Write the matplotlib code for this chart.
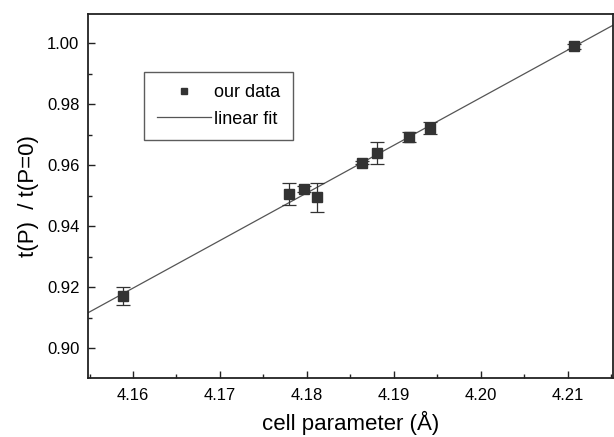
import numpy as np
import matplotlib
matplotlib.use('Agg')
import matplotlib.pyplot as plt
from matplotlib.ticker import MultipleLocator, FormatStrFormatter

plt.rcParams['font.family'] = ['Liberation Sans', 'DejaVu Sans']

# datos
cell = [4.1589, 4.1780, 4.1797, 4.1812, 4.1864, 4.1881, 4.1917, 4.1942, 4.2107]
ratio = [0.9172, 0.9506, 0.9522, 0.9495, 0.9608, 0.9640, 0.9693, 0.9722, 0.9990]
err = [0.0030, 0.0037, 0.0010, 0.0048, 0.0005, 0.0035, 0.0017, 0.0020, 0.0008]

fig = plt.figure(figsize=(6.14, 4.37), dpi=100)
ax = fig.add_axes([0.143, 0.135, 0.855, 0.834])

# ajuste lineal
slope, intercept = np.polyfit(cell, ratio, 1)
xs = np.array([4.1548, 4.2152])
ax.plot(xs, slope * xs + intercept, color='#555555', lw=0.9, label='linear fit')

ax.errorbar(cell, ratio, yerr=err, fmt='none', ecolor='#333333',
            elinewidth=0.9, capsize=5, capthick=0.9)
ax.plot(cell, ratio, 's', color='#333333', ms=6.5, label='our data')

ax.set_xlim(4.1548, 4.2152)
ax.set_ylim(0.8902, 1.0098)
ax.xaxis.set_major_locator(MultipleLocator(0.01))
ax.xaxis.set_minor_locator(MultipleLocator(0.005))
ax.yaxis.set_major_locator(MultipleLocator(0.02))
ax.yaxis.set_minor_locator(MultipleLocator(0.01))
ax.xaxis.set_major_formatter(FormatStrFormatter('%.2f'))
ax.yaxis.set_major_formatter(FormatStrFormatter('%.2f'))
ax.tick_params(which='both', direction='in', top=False, right=False,
               labelsize=12, color='#222222', width=1)
ax.tick_params(which='major', length=5)
ax.tick_params(which='minor', length=3)
ax.tick_params(axis='x', pad=7)
ax.tick_params(axis='y', pad=6)
for s in ax.spines.values():
    s.set_linewidth(1.3)
    s.set_color('#222222')

ax.set_xlabel('cell parameter (Å)', fontsize=16, labelpad=6)
ax.set_ylabel('t(P)  / t(P=0)', fontsize=16, labelpad=6)

h, l = ax.get_legend_handles_labels()
leg = ax.legend(h[::-1], l[::-1], loc='upper left', bbox_to_anchor=(0.108, 0.84),
                fontsize=13, frameon=True, fancybox=False, edgecolor='#333333',
                handlelength=3.0, handletextpad=0.15, borderpad=0.7,
                borderaxespad=0.0, labelspacing=0.5, markerscale=0.7)
leg.get_frame().set_linewidth(1.0)

fig.savefig('out.png', dpi=100)
